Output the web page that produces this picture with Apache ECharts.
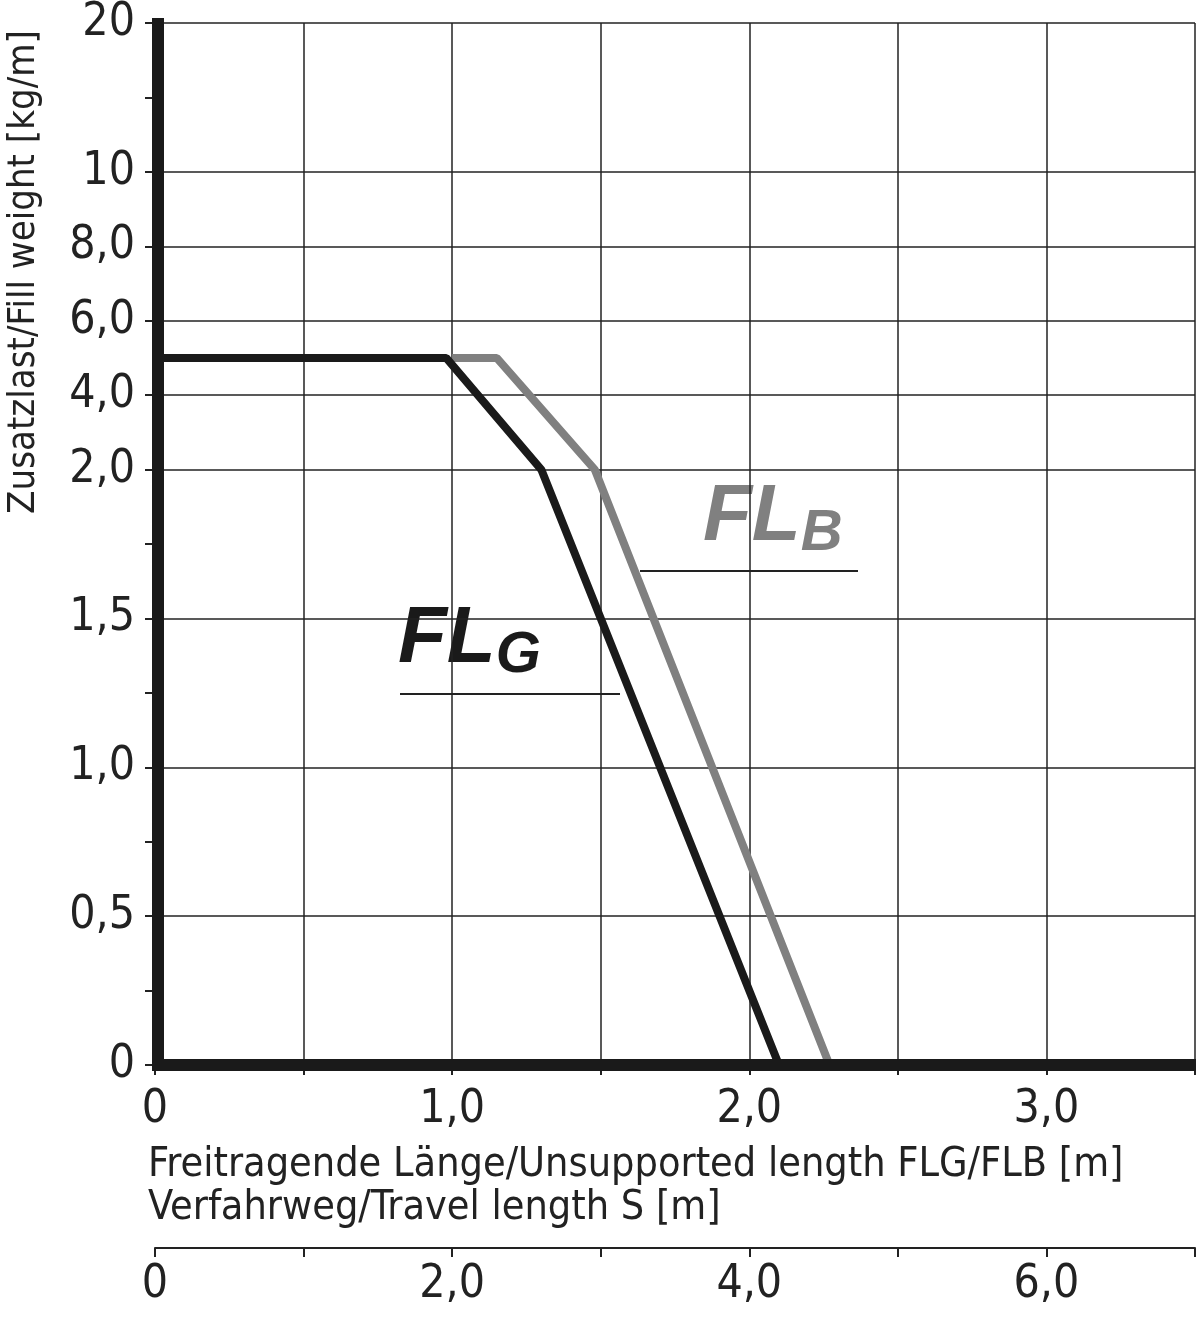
<!DOCTYPE html>
<html><head><meta charset="utf-8">
<script src="https://cdn.jsdelivr.net/npm/echarts@6/dist/echarts.min.js"></script>
<style>body{margin:0}#c{width:1200px;height:1326px}</style></head>
<body><div id="c"></div>
<script>
// data (real values)
const flgX = [0, 0.98, 1.3, 2.1];
const flgY = [5, 5, 2.0, 0];
const flbX = [1.0, 1.15, 1.48, 2.27];
const flbY = [5, 5, 2.0, 0];
const yTickValues = [0, 0.5, 1.0, 1.5, 2.0, 4.0, 6.0, 8.0, 10, 20];
const yTickLabels = ['0', '0,5', '1,0', '1,5', '2,0', '4,0', '6,0', '8,0', '10', '20'];
const xTickLabels = {0: '0', 1: '1,0', 2: '2,0', 3: '3,0'};
const sTickLabels = {0: '0', 2: '2,0', 4: '4,0', 6: '6,0'};

// piecewise scale: value -> axis index
function idx(v) {
  if (v <= 2) return v / 0.5;
  if (v <= 10) return 4 + (v - 2) / 8 * 2;
  return 6 + (v - 10) / 10;
}
const labelByIdx = {};
yTickValues.forEach((v, i) => labelByIdx[idx(v).toFixed(2)] = yTickLabels[i]);

const FONT = '"Liberation Sans Narrow","DejaVu Sans Condensed","Liberation Sans",sans-serif';
const chart = echarts.init(document.getElementById('c'));
chart.setOption({
  animation: false,
  grid: [
    {left: 155, right: 5, top: 22, bottom: 261},
    {left: 155, right: 5, top: 1248, height: 0}
  ],
  xAxis: [{
    gridIndex: 0, type: 'value', min: 0, max: 3.5, interval: 0.5,
    axisLine: {show: false},
    axisTick: {show: true, length: 10, lineStyle: {color: '#222', width: 2}},
    splitLine: {show: true, lineStyle: {color: '#222', width: 1.5}},
    axisLabel: {margin: 22, fontSize: 46, fontFamily: FONT, color: '#222',
      formatter: v => xTickLabels[v] !== undefined ? xTickLabels[v] : ''}
  }, {
    gridIndex: 1, type: 'value', min: 0, max: 7, interval: 1,
    axisLine: {show: true, lineStyle: {color: '#222', width: 2}},
    axisTick: {show: true, length: 9, inside: false, lineStyle: {color: '#222', width: 2}},
    splitLine: {show: false},
    axisLabel: {margin: 14, fontSize: 46, fontFamily: FONT, color: '#222',
      formatter: v => sTickLabels[v] !== undefined ? sTickLabels[v] : ''}
  }],
  yAxis: [{
    gridIndex: 0, type: 'value', min: 0, max: 7, interval: 0.5,
    axisLine: {show: false},
    axisTick: {show: true, length: 10, lineStyle: {color: '#222', width: 2}},
    splitLine: {show: false},
    axisLabel: {margin: 20, fontSize: 46, fontFamily: FONT, color: '#222',
      formatter: v => labelByIdx[v.toFixed(2)] || ''}
  }, {gridIndex: 1, type: 'value', show: false}],
  graphic: [
    {type: 'line', shape: {x1: 155, y1: 1065, x2: 1196, y2: 1065}, style: {stroke: '#1a1a1a', lineWidth: 12}, z: 10},
    {type: 'line', shape: {x1: 158, y1: 18, x2: 158, y2: 1071}, style: {stroke: '#1a1a1a', lineWidth: 12}, z: 10},
    {type: 'text', x: 24, y: 272, rotation: Math.PI / 2, style: {text: 'Zusatzlast/Fill weight [kg/m]', font: '38px ' + FONT, fill: '#222', textAlign: 'center', textVerticalAlign: 'middle'}},
    {type: 'text', x: 148, y: 1165, style: {text: 'Freitragende Länge/Unsupported length FLG/FLB [m]', font: '41px ' + FONT, fill: '#222', textVerticalAlign: 'middle'}},
    {type: 'text', x: 148, y: 1208, style: {text: 'Verfahrweg/Travel length S [m]', font: '41px ' + FONT, fill: '#222', textVerticalAlign: 'middle'}},
    {type: 'text', x: 398, y: 640, style: {text: '{a|FL}{b|G}', textVerticalAlign: 'middle',
      rich: {a: {font: 'italic bold 80px "Liberation Sans",sans-serif', fill: '#1a1a1a'}, b: {font: 'italic bold 58px "Liberation Sans",sans-serif', fill: '#1a1a1a', padding: [32, 0, 0, 0]}}}},
    {type: 'line', shape: {x1: 400, y1: 694, x2: 620, y2: 694}, style: {stroke: '#222', lineWidth: 2}},
    {type: 'rect', shape: {x: 700, y: 468, width: 158, height: 97}, style: {fill: '#fff'}},
    {type: 'text', x: 703, y: 518, style: {text: '{a|FL}{b|B}', textVerticalAlign: 'middle',
      rich: {a: {font: 'italic bold 80px "Liberation Sans",sans-serif', fill: '#808080'}, b: {font: 'italic bold 58px "Liberation Sans",sans-serif', fill: '#808080', padding: [32, 0, 0, 0]}}}},
    {type: 'line', shape: {x1: 640, y1: 571, x2: 858, y2: 571}, style: {stroke: '#222', lineWidth: 2}}
  ],
  series: [{
    type: 'line', xAxisIndex: 0, yAxisIndex: 0, data: [], silent: true,
    markLine: {silent: true, symbol: 'none', label: {show: false},
      lineStyle: {color: '#222', width: 1.5, type: 'solid'},
      data: yTickValues.slice(1).map(v => ({yAxis: idx(v)}))}
  }, {
    name: 'FLB', type: 'line', xAxisIndex: 0, yAxisIndex: 0, symbol: 'none', z: 5,
    lineStyle: {color: '#808080', width: 8}, data: flbX.map((x, i) => [x, idx(flbY[i])])
  }, {
    name: 'FLG', type: 'line', xAxisIndex: 0, yAxisIndex: 0, symbol: 'none', z: 6,
    lineStyle: {color: '#1a1a1a', width: 8}, data: flgX.map((x, i) => [x, idx(flgY[i])])
  }]
});
</script></body></html>
